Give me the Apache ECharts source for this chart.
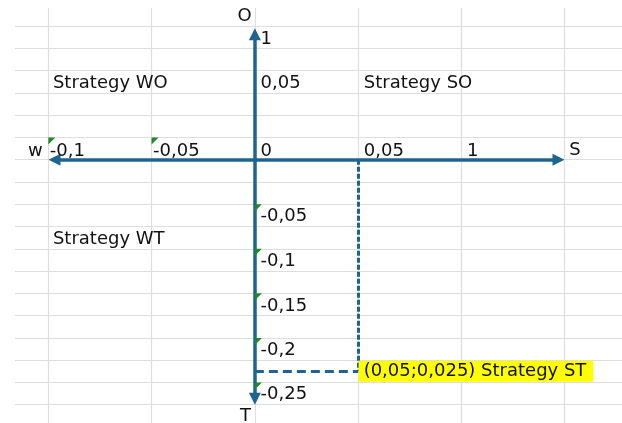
<!DOCTYPE html>
<html>
<head>
<meta charset="utf-8">
<style>
  html, body { margin: 0; padding: 0; background: #fff; overflow: hidden; }
  /* the sheet's first column starts left of the window, so the div is shifted */
  #main { position: absolute; left: -55px; top: 0; width: 723px; height: 427px; }
</style>
<script src="https://cdn.jsdelivr.net/npm/echarts@6/dist/echarts.min.js"></script>
</head>
<body>
<div id="main"></div>
<script>
// positions are in sheet cells: x = columns from the S/W axis, y = rows above the O/T axis
var xLabels = ['-0,1', '-0,05', '0', '0,05', '1'];
var xLabelPos = [-1.99, -0.99, 0.05, 1.05, 2.05];
var xLabelRow = 0.38;

var yLabels = ['1', '0,05', '-0,05', '-0,1', '-0,15', '-0,2', '-0,25'];
var yLabelPos = [5.42, 3.44, -2.54, -4.56, -6.58, -8.56, -10.54];
var yLabelCol = 0.05;

var quadrantNames = ['Strategy WO', 'Strategy SO', 'Strategy WT'];
var quadrantPos = [[-1.96, 3.44], [1.05, 3.44], [-1.96, -3.57]];

var axisNames = ['w', 'S', 'O', 'T'];
var axisNamePos = [[-2.05, 0.38], [3.04, 0.4], [-0.1, 6.45], [-0.09, -11.53]];

var textFlags = [[-2, 1], [-1, 1], [0, -2], [0, -4], [0, -6], [0, -8], [0, -10]];

var axisSW = [[-1.94, 0], [2.94, 0]];
var axisOT = [[0, 5.63], [0, -10.73]];

var point = [1, -9.5];
var pointLabel = '(0,05;0,025) Strategy ST';

var blue = '#1d6590';
var ink = '#111111';
var font = 'DejaVu Sans';

var chart = echarts.init(document.getElementById('main'));

function textItems(names, coords) {
    return names.map(function (n, i) { return { name: n, value: coords[i] }; });
}

var leftTexts = textItems(xLabels, xLabelPos.map(function (x) { return [x, xLabelRow]; }))
    .concat(textItems(yLabels, yLabelPos.map(function (y) { return [yLabelCol, y]; })))
    .concat(textItems(quadrantNames, quadrantPos))
    .concat([{ name: axisNames[1], value: axisNamePos[1] }]);

var textLabel = { color: ink, fontFamily: font, fontSize: 18, formatter: '{b}' };
var hidden = { color: 'rgba(0,0,0,0)', opacity: 1 };

option = {
    animation: false,
    grid: { left: 0, right: 0, top: 3.75, bottom: 0 },
    xAxis: {
        type: 'value', min: -3, max: 4, interval: 1,
        axisLine: { show: false }, axisTick: { show: false }, axisLabel: { show: false },
        splitLine: { show: true, lineStyle: { color: '#dedede', width: 1.2 } }
    },
    yAxis: {
        type: 'value', min: -12, max: 7, interval: 1,
        axisLine: { show: false }, axisTick: { show: false }, axisLabel: { show: false },
        splitLine: { show: true, lineStyle: { color: '#dedede', width: 1.2 } }
    },
    graphic: [
        { type: 'rect', left: 0, top: 0, z: 1, shape: { width: 70, height: 427 }, style: { fill: '#fff' } },
        { type: 'rect', left: 0, top: 0, z: 1, shape: { width: 723, height: 8 }, style: { fill: '#fff' } }
    ],
    series: [
        {
            type: 'lines', coordinateSystem: 'cartesian2d', z: 3,
            symbol: ['triangle', 'triangle'], symbolSize: 12,
            lineStyle: { color: blue, width: 3.5, opacity: 1 },
            data: [{ coords: axisSW }, { coords: axisOT }]
        },
        {
            type: 'lines', coordinateSystem: 'cartesian2d', z: 3,
            symbol: 'none',
            lineStyle: { color: blue, width: 3, opacity: 1, type: [9, 5] },
            data: [{ coords: [[0, point[1]], point] }]
        },
        {
            type: 'lines', coordinateSystem: 'cartesian2d', z: 3,
            symbol: 'none',
            lineStyle: { color: blue, width: 3, opacity: 1, type: [5, 2] },
            data: [{ coords: [[point[0], 0], point] }]
        },
        {
            type: 'scatter', z: 4,
            symbol: 'path://M0,0L1,0L0,1Z', symbolSize: 7, symbolOffset: [3.5, 3.5],
            itemStyle: { color: '#1f8b24', opacity: 1 },
            data: textFlags
        },
        {
            type: 'scatter', z: 5, symbolSize: 1, itemStyle: hidden,
            label: Object.assign({ show: true, position: 'right', distance: 0 }, textLabel),
            data: leftTexts
        },
        {
            type: 'scatter', z: 5, symbolSize: 1, itemStyle: hidden,
            label: Object.assign({ show: true, position: 'left', distance: 0 }, textLabel),
            data: [{ name: axisNames[0], value: axisNamePos[0] }]
        },
        {
            type: 'scatter', z: 5, symbolSize: 1, itemStyle: hidden,
            label: Object.assign({ show: true, position: 'inside' }, textLabel),
            data: [{ name: axisNames[2], value: axisNamePos[2] }, { name: axisNames[3], value: axisNamePos[3] }]
        },
        {
            type: 'scatter', z: 6, symbolSize: 1, itemStyle: hidden,
            label: Object.assign({ show: true, position: 'right', distance: 0,
                backgroundColor: '#ffff00', lineHeight: 21, padding: [0, 7, 0, 5] }, textLabel),
            data: [{ name: pointLabel, value: point }]
        }
    ]
};
chart.setOption(option);
</script>
</body>
</html>
